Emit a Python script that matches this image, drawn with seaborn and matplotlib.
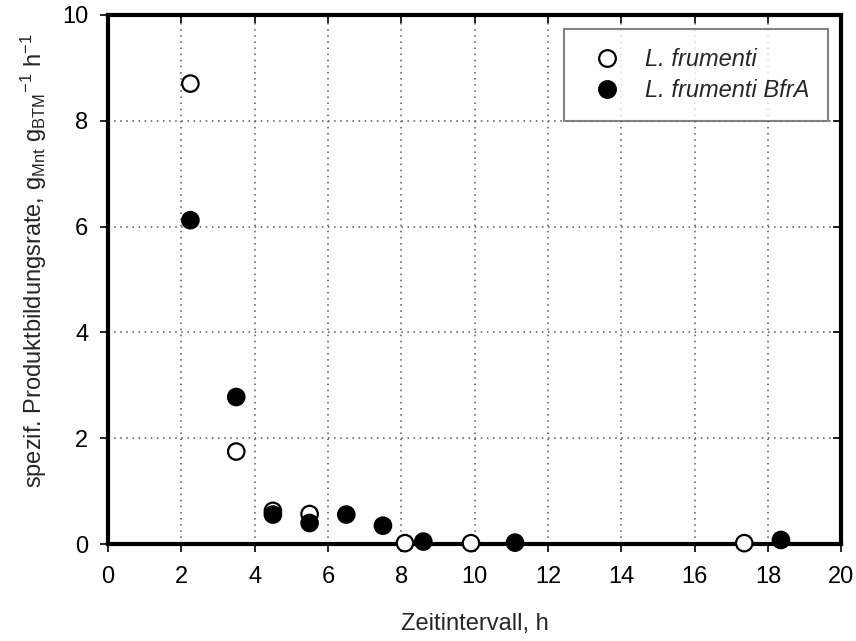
import numpy as np
import pandas as pd
import matplotlib
matplotlib.use("Agg")
import matplotlib.pyplot as plt
import seaborn as sns

# Zeitintervall (h) und spezifische Produktbildungsrate
wt_time = [2.25, 3.5, 4.5, 5.5, 8.1, 9.9, 17.35]
wt_rate = [8.7, 1.75, 0.63, 0.57, 0.02, 0.02, 0.02]
mut_time = [2.25, 3.5, 4.5, 5.5, 6.5, 7.5, 8.6, 11.1, 18.35]
mut_rate = [6.12, 2.78, 0.56, 0.40, 0.56, 0.35, 0.05, 0.03, 0.08]

labels = ["L. frumenti", "L. frumenti BfrA"]
x_ticks = [0, 2, 4, 6, 8, 10, 12, 14, 16, 18, 20]
y_ticks = [0, 2, 4, 6, 8, 10]

df = pd.DataFrame({
    "t": wt_time + mut_time,
    "r": wt_rate + mut_rate,
    "stamm": [labels[0]] * len(wt_time) + [labels[1]] * len(mut_time),
})

sns.set_style("white")
plt.rcParams["font.family"] = ["Liberation Sans", "DejaVu Sans"]
plt.rcParams["mathtext.fontset"] = "custom"
plt.rcParams["mathtext.rm"] = "Liberation Sans"
plt.rcParams["mathtext.it"] = "Liberation Sans:italic"

FS = 17

fig = plt.figure(figsize=(8.56, 6.41), dpi=100)
ax = fig.add_axes([0.126, 0.151, 0.857, 0.826])

sns.scatterplot(data=df, x="t", y="r", hue="stamm",
                palette={labels[0]: "white", labels[1]: "black"},
                edgecolor="black", linewidth=1.6, s=140, ax=ax,
                clip_on=False, zorder=5)

ax.set_xlim(0, 20)
ax.set_ylim(0, 10)
ax.set_xticks(x_ticks)
ax.set_yticks(y_ticks)
ax.grid(True, linestyle=(0, (1, 3)), color="#555555", linewidth=1.1)
for s in ax.spines.values():
    s.set_linewidth(3)
    s.set_color("black")
    s.set_zorder(4)

ax.tick_params(axis="both", direction="out", length=6, width=1.2,
               labelsize=FS, colors="black")
ax.tick_params(axis="x", pad=10)
ax.tick_params(axis="y", pad=8)
ax.tick_params(axis="x", top=True, bottom=True)
ax.tick_params(axis="y", left=True, right=True)
# inward ticks on the top and right frame
for t in ax.xaxis.get_major_ticks():
    t.tick2line.set_marker(3)
for t in ax.yaxis.get_major_ticks():
    t.tick2line.set_marker(0)

ax.set_xlabel("Zeitintervall, h", fontsize=FS, labelpad=18)
ax.set_ylabel(r"spezif. Produktbildungsrate, g$_{\mathrm{Mnt}}$ g$_{\mathrm{BTM}}$$^{-1}$ h$^{-1}$",
              fontsize=FS)
ax.yaxis.set_label_coords(-0.08, 0.535)

leg = ax.legend(loc="upper right", bbox_to_anchor=(0.988, 0.982),
                frameon=True, fancybox=False,
                prop={"style": "italic", "size": FS},
                handletextpad=0.6, borderpad=0.8, labelspacing=0.35,
                borderaxespad=0.2)
leg.get_frame().set_edgecolor("#666666")
leg.get_frame().set_linewidth(1.5)
leg.set_zorder(6)
for h in leg.legend_handles:
    if hasattr(h, "set_markersize"):
        h.set_markersize(12)
        h.set_markeredgecolor("black")
        h.set_markeredgewidth(1.6)

fig.savefig("out.png", dpi=100)
